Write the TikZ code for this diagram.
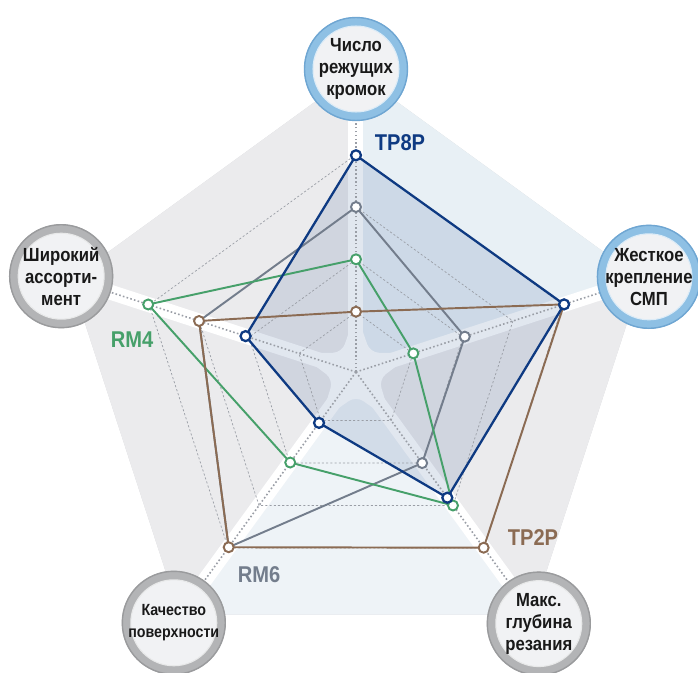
\documentclass[tikz,border=0pt]{standalone}
\usepackage{fontspec}
\newfontfamily\labelfont[FakeStretch=0.88]{Liberation Sans}

\definecolor{tpblue}{HTML}{0E3A82}
\definecolor{rmgray}{HTML}{737D8C}
\definecolor{rmgreen}{HTML}{46A06A}
\definecolor{tpbrown}{HTML}{8B6B53}
\definecolor{sectgray}{HTML}{EBEBED}
\definecolor{sectblue}{HTML}{E8F0F5}
\definecolor{sectlight}{HTML}{EEF3F7}
\definecolor{shadowgray}{HTML}{D5D6D9}
\definecolor{ringblue}{HTML}{8EC0E4}
\definecolor{ringblueedge}{HTML}{6FA6D2}
\definecolor{ringgray}{HTML}{B3B4B6}
\definecolor{ringgrayedge}{HTML}{9A9B9D}
\definecolor{discfill}{HTML}{F1F2F4}
\definecolor{gridline}{HTML}{9A9EA6}

\begin{document}
\begin{tikzpicture}[x=0.02cm, y=0.02cm,
  series/.style={line width=1.1pt, line join=round},
  markerc/.style={fill=white, line width=1.1pt},
  grid/.style={gridline, line width=0.4pt, dash pattern=on 1.2pt off 1.2pt},
  axisline/.style={gridline, line width=0.9pt, dash pattern=on 0.9pt off 1.3pt},
  band/.style={white, line width=0.3cm},
  crit/.style={circle, minimum size=1.9cm, inner sep=0pt, fill=discfill, line width=0.18cm},
  critblue/.style={crit, draw=ringblue},
  critgray/.style={crit, draw=ringgray},
  crittext/.style={align=center, inner sep=0pt, text=black!90,
    font=\labelfont\bfseries\fontsize{10.8}{12.5}\selectfont},
  serieslabel/.style={font=\labelfont\bfseries\fontsize{13}{13}\selectfont}]

\useasboundingbox (-356,-301) rectangle (342,372);

% axes
\coordinate (o) at (0,0);
\coordinate (ax1) at (90:303);
\coordinate (ax2) at (18:308);
\coordinate (ax3) at (-54:311);
\coordinate (ax4) at (234:310);
\coordinate (ax5) at (162:310);

% outer pentagon
\coordinate (v1) at (90:300);
\coordinate (v2) at (18:300);
\coordinate (v3) at (-54:300);
\coordinate (v4) at (234:300);
\coordinate (v5) at (162:300);

\fill[shadowgray, shift={(3,-5)}] (v1) -- (v2) -- (v3) -- (v4) -- (v5) -- cycle;
\fill[sectblue] (o) -- (v1) -- (v2) -- cycle;
\fill[sectgray] (o) -- (v2) -- (v3) -- cycle;
\fill[sectlight] (o) -- (v3) -- (v4) -- cycle;
\fill[sectgray] (o) -- (v4) -- (v5) -- cycle;
\fill[sectgray] (o) -- (v5) -- (v1) -- cycle;

% white bands and the star in the middle
\draw[band] (o) -- (ax1);
\draw[band] (o) -- (ax2);
\draw[band] (o) -- (ax3);
\draw[band] (o) -- (ax4);
\draw[band] (o) -- (ax5);
\fill[white, rounded corners=5pt] (90:60) -- (54:24) -- (18:60) -- (-18:24) -- (-54:60)
   -- (-90:24) -- (234:60) -- (198:24) -- (162:60) -- (126:24) -- cycle;

% data points
\coordinate (tp8p-1) at (90:216.7);
\coordinate (tp8p-2) at (18:218.8);
\coordinate (tp8p-3) at (-54:155.4);
\coordinate (tp8p-4) at (234:62.9);
\coordinate (tp8p-5) at (162:116.1);

\coordinate (rm6-1) at (90:165);
\coordinate (rm6-2) at (18:114.4);
\coordinate (rm6-3) at (-54:112.6);
\coordinate (rm6-4) at (234:216.6);
\coordinate (rm6-5) at (162:165);

\coordinate (rm4-1) at (90:112.7);
\coordinate (rm4-2) at (18:60.3);
\coordinate (rm4-3) at (-54:165);
\coordinate (rm4-4) at (234:111.9);
\coordinate (rm4-5) at (162:218.5);

\coordinate (tp2p-1) at (90:60.3);
\coordinate (tp2p-2) at (18:218.8);
\coordinate (tp2p-3) at (-54:217.2);
\coordinate (tp2p-4) at (234:216.6);
\coordinate (tp2p-5) at (162:165);

% shaded area of TP8P
\fill[tpblue, opacity=0.12] (tp8p-1) -- (tp8p-2) -- (tp8p-3) -- (tp8p-4) -- (tp8p-5) -- cycle;

% grid
\draw[grid] (90:60) -- (18:60) -- (-54:60) -- (234:60) -- (162:60) -- cycle;
\draw[grid] (90:112.5) -- (18:112.5) -- (-54:112.5) -- (234:112.5) -- (162:112.5) -- cycle;
\draw[grid] (90:165) -- (18:165) -- (-54:165) -- (234:165) -- (162:165) -- cycle;
\draw[grid] (90:217.5) -- (18:217.5) -- (-54:217.5) -- (234:217.5) -- (162:217.5) -- cycle;
\draw[axisline] (o) -- (ax1);
\draw[axisline] (o) -- (ax2);
\draw[axisline] (o) -- (ax3);
\draw[axisline] (o) -- (ax4);
\draw[axisline] (o) -- (ax5);

% series
\draw[series, rmgray] (rm6-1) -- (rm6-2) -- (rm6-3) -- (rm6-4) -- (rm6-5) -- cycle;
\draw[series, rmgreen] (rm4-1) -- (rm4-2) -- (rm4-3) -- (rm4-4) -- (rm4-5) -- cycle;
\draw[series, tpbrown] (tp2p-1) -- (tp2p-2) -- (tp2p-3) -- (tp2p-4) -- (tp2p-5) -- cycle;
\draw[series, tpblue, line width=1.3pt] (tp8p-1) -- (tp8p-2) -- (tp8p-3) -- (tp8p-4) -- (tp8p-5) -- cycle;

\draw[markerc, draw=rmgray] (rm6-1) circle (0.1cm) (rm6-2) circle (0.1cm) (rm6-3) circle (0.1cm);
\draw[markerc, draw=rmgreen] (rm4-1) circle (0.1cm) (rm4-2) circle (0.1cm) (rm4-3) circle (0.1cm)
   (rm4-4) circle (0.1cm) (rm4-5) circle (0.1cm);
\draw[markerc, draw=tpbrown] (tp2p-1) circle (0.1cm) (tp2p-3) circle (0.1cm)
   (tp2p-4) circle (0.1cm) (tp2p-5) circle (0.1cm);
\draw[markerc, draw=tpblue, line width=1.3pt] (tp8p-1) circle (0.1cm) (tp8p-2) circle (0.1cm)
   (tp8p-3) circle (0.1cm) (tp8p-4) circle (0.1cm) (tp8p-5) circle (0.1cm);

% criteria
\node[critblue] (c-edges) at (ax1) {};
\node[critblue] (c-clamp) at (ax2) {};
\node[critgray] (c-depth) at (ax3) {};
\node[critgray] (c-finish) at (ax4) {};
\node[critgray] (c-range) at (ax5) {};
\draw[ringblueedge, line width=0.8pt] (c-edges.center) circle (1.03cm) (c-clamp.center) circle (1.03cm);
\draw[ringgrayedge, line width=0.8pt] (c-depth.center) circle (1.03cm) (c-finish.center) circle (1.03cm)
   (c-range.center) circle (1.03cm);
\draw[white!70!ringblue, line width=0.6pt] (c-edges.center) circle (0.86cm) (c-clamp.center) circle (0.86cm);
\draw[white!70!ringgray, line width=0.6pt] (c-depth.center) circle (0.86cm) (c-finish.center) circle (0.86cm)
   (c-range.center) circle (0.86cm);

\node[crittext] (t-edges) at (c-edges) {Число\\режущих\\кромок};
\node[crittext] (t-clamp) at (c-clamp) {Жесткое\\крепление\\СМП};
\node[crittext] (t-depth) at (c-depth) {Макс.\\глубина\\резания};
\node[crittext, font=\labelfont\bfseries\fontsize{9.2}{12.5}\selectfont] (t-finish) at (c-finish) {Качество\\поверхности};
\node[crittext] (t-range) at (c-range) {Широкий\\ассорти-\\мент};

% series names
\node[serieslabel, tpblue] (lab-tp8p) at (44,229) {TP8P};
\node[serieslabel, rmgreen] (lab-rm4) at (-224,32) {RM4};
\node[serieslabel, rmgray] (lab-rm6) at (-97,-203) {RM6};
\node[serieslabel, tpbrown] (lab-tp2p) at (177,-166) {TP2P};

\end{tikzpicture}
\end{document}
